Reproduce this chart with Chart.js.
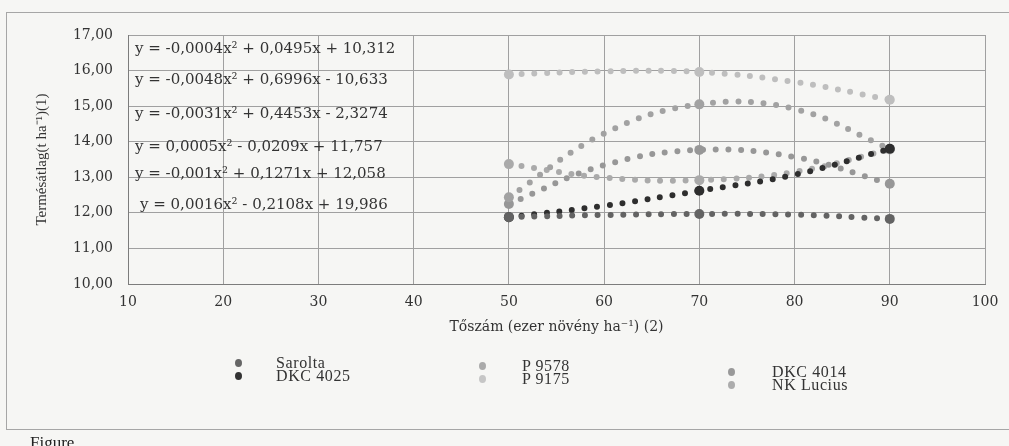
<!DOCTYPE html>
<html>
<head>
<meta charset="utf-8">
<script src="https://cdn.jsdelivr.net/npm/chart.js@4.4.1/dist/chart.umd.min.js"></script>
<style>
  body { margin: 0; background: #f6f6f4; }
  #wrap { position: relative; width: 1009px; height: 446px; overflow: hidden; background: #f6f6f4; }
  #frame { position: absolute; left: 6px; top: 12px; width: 1010px; height: 416px; border: 1px solid #a6a6a6; }
  #chart { position: absolute; left: 0; top: 0; }
  .leg { position: absolute; font-family: "Liberation Serif", serif; font-size: 16px; letter-spacing: 0.6px; color: #333; }
  .leg div { height: 13px; line-height: 13px; white-space: nowrap; }
  .dot { position: absolute; width: 7px; height: 8px; border-radius: 50%; }
  #fig { position: absolute; left: 30px; top: 433px; font-family: "Liberation Serif", serif; font-size: 17px; color: #222; }
</style>
</head>
<body>
<div id="wrap">
  <div id="frame"></div>
  <canvas id="chart" width="1009" height="446"></canvas>
  <div id="legend"></div>
  <div id="fig">Figure</div>
</div>
<script>
// tőszám (ezer növény/ha) - a trendvonal leolvasott pontjai
const trendX = [50, 60, 70, 80, 90];
// mért pontok csak 50, 70, 90-nél (marker)
const measured = [true, false, true, false, true];

// fajták
const varieties = ['Sarolta', 'DKC 4025', 'P 9578', 'P 9175', 'DKC 4014', 'NK Lucius'];

// termésátlag (t/ha)
const saroltaVals = [11.88, 11.94, 11.97, 11.95, 11.83];
const dkc4025Vals = [11.88, 12.20, 12.62, 13.07, 13.80];
const p9578Vals = [12.44, 14.23, 15.05, 14.92, 13.80];
const p9175Vals = [15.89, 15.98, 15.96, 15.68, 15.18];
const dkc4014Vals = [12.25, 13.34, 13.77, 13.57, 12.82];
const nkLuciusVals = [13.37, 12.99, 12.92, 13.15, 13.78];

// trendvonal egyenletek (ahogy a képen)
const trendEquations = [
    'y = -0,0004x² + 0,0495x + 10,312',
    'y = -0,0048x² + 0,6996x - 10,633',
    'y = -0,0031x² + 0,4453x - 2,3274',
    'y = 0,0005x² - 0,0209x + 11,757',
    'y = -0,001x² + 0,1271x + 12,058',
    'y = 0,0016x² - 0,2108x + 19,986'
];

const seriesVals = [saroltaVals, dkc4025Vals, p9578Vals, p9175Vals, dkc4014Vals, nkLuciusVals];
const lineColors = ['#636363', '#2e2e2e', '#a2a2a2', '#bebebe', '#979797', '#aaaaaa'];
const legendColors = ['#666666', '#333333', '#aaaaaa', '#c6c6c6', '#999999', '#acacac'];

// egyenletek helye (px)
const eqX = [7, 7, 7, 7, 7, 12];
const eqY = [49, 80, 114, 147, 174, 205];

const serif = '"DejaVu Serif", serif';

const datasets = varieties.map((name, i) => ({
    label: name,
    data: trendX.map((x, j) => ({ x: x, y: seriesVals[i][j] })),
    showLine: true,
    borderColor: lineColors[i],
    backgroundColor: lineColors[i],
    borderWidth: 6,
    borderDash: [0, 12.7],
    borderCapStyle: 'round',
    tension: 0.4,
    pointRadius: measured.map(m => m ? 5 : 0),
    pointBorderWidth: 0,
    pointBackgroundColor: lineColors[i]
}));

const equationsPlugin = {
    id: 'equations',
    afterDatasetsDraw(chart) {
        const ctx = chart.ctx;
        ctx.save();
        ctx.font = '15px ' + serif;
        ctx.fillStyle = '#333';
        ctx.textBaseline = 'middle';
        trendEquations.forEach((t, i) => {
            ctx.fillText(t, chart.chartArea.left + eqX[i], eqY[i]);
        });
        ctx.restore();
    }
};

new Chart(document.getElementById('chart').getContext('2d'), {
    type: 'scatter',
    data: { datasets: datasets },
    plugins: [equationsPlugin],
    options: {
        responsive: false,
        animation: false,
        layout: { padding: { left: 0, top: 35, right: 24, bottom: 0 } },
        plugins: { legend: { display: false }, tooltip: { enabled: false } },
        scales: {
            x: {
                type: 'linear',
                min: 10,
                max: 100,
                ticks: { stepSize: 10, padding: 10, color: '#333', font: { family: serif, size: 14 } },
                grid: { color: '#a0a0a0', drawTicks: false },
                border: { color: '#7c7c7c' },
                title: {
                    display: true,
                    text: 'Tőszám (ezer növény ha⁻¹) (2)',
                    color: '#333',
                    font: { family: serif, size: 14 },
                    padding: { top: 0, bottom: 110 }
                },
                afterFit(scale) { scale.height = 446 - 284; }
            },
            y: {
                min: 10,
                max: 17,
                ticks: {
                    stepSize: 1,
                    padding: 15,
                    color: '#333',
                    font: { family: serif, size: 14 },
                    callback: v => v.toFixed(2).replace('.', ',')
                },
                grid: { color: '#a0a0a0', drawTicks: false },
                border: { color: '#7c7c7c' },
                title: {
                    display: true,
                    text: 'Termésátlag(t ha⁻¹)(1)',
                    color: '#333',
                    font: { family: '"Liberation Serif", serif', size: 15 },
                    padding: { top: 33, bottom: 0 }
                },
                afterFit(scale) { scale.width = 128; }
            }
        }
    }
});

// jelmagyarázat: 3 oszlop, 2 sor
const legendCols = [
    { dotX: 235, textX: 276, top: 356 },
    { dotX: 479, textX: 522, top: 359 },
    { dotX: 728, textX: 772, top: 365 }
];
const legendEl = document.getElementById('legend');
varieties.forEach((name, i) => {
    const col = legendCols[Math.floor(i / 2)];
    const row = i % 2;
    const dot = document.createElement('div');
    dot.className = 'dot';
    dot.style.left = col.dotX + 'px';
    dot.style.top = (col.top + row * 13 + 3) + 'px';
    dot.style.background = legendColors[i];
    legendEl.appendChild(dot);
    const txt = document.createElement('div');
    txt.className = 'leg';
    txt.style.left = col.textX + 'px';
    txt.style.top = (col.top + row * 13) + 'px';
    txt.innerHTML = '<div>' + name + '</div>';
    legendEl.appendChild(txt);
});
</script>
</body>
</html>
